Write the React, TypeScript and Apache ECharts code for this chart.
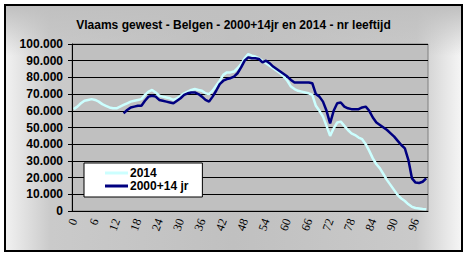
import React, { useEffect, useRef } from "react";
import * as echarts from "echarts";

const titleText = "Vlaams gewest - Belgen - 2000+14jr en 2014 - nr leeftijd";

const ages: string[] = Array.from({ length: 100 }, (_, i) => String(i));

const seriesNames = ["2014", "2000+14 jr"];

const values2014: number[] = [
  61000, 62500, 64500, 66000, 66500, 67000, 66500, 65500, 64000, 63000,
  62000, 61500, 61500, 62500, 63500, 64500, 65500, 66000, 66500, 67000,
  69500, 71500, 72500, 71000, 69000, 68500, 68000, 67500, 66500, 67500,
  69000, 70500, 71500, 72500, 73000, 72500, 72000, 70500, 70000, 72000,
  75000, 78000, 81500, 83000, 83000, 83500, 85500, 88000, 91500, 94000,
  93000, 92500, 91500, 90000, 88500, 87000, 85500, 84000, 82500, 80500,
  78000, 74500, 73000, 72000, 71500, 71000, 70500, 69500, 63000, 60000,
  56500, 51000, 45000, 49500, 53000, 53500, 51000, 48500, 46500, 45500,
  44000, 43000, 40000, 36000, 31500, 28000, 25500, 22000, 18500, 15500,
  12500, 9500, 7500, 6000, 4000, 2500, 1800, 1500, 1200, 1000,
];

const values2000plus14: (number | null)[] = [
  null, null, null, null, null, null, null, null, null, null,
  null, null, null, null, 58500, 60500, 62000, 62500, 63000, 63000,
  66000, 68500, 69000, 68500, 66500, 66000, 65500, 65000, 64500, 66000,
  67500, 69500, 70500, 71000, 71000, 70000, 68500, 66500, 65500, 68500,
  72000, 76000, 78000, 79000, 79500, 80500, 82500, 86000, 90000, 92000,
  91500, 91500, 91000, 89000, 90000, 88500, 86500, 85000, 83500, 82000,
  80500, 78500, 77000, 77000, 77000, 77000, 77000, 76500, 70000, 68500,
  65500, 60000, 52500, 60000, 64500, 65000, 62500, 61500, 61000, 61000,
  61000, 62000, 62500, 60000, 56000, 53000, 51500, 50000, 48500, 46500,
  44500, 42000, 39500, 37500, 30500, 19500, 17000, 16800, 17500, 19500,
];

const fmt = (v: number) => String(v).replace(/\B(?=(\d{3})+(?!\d))/g, ".");

export default function App() {
  const ref = useRef<HTMLDivElement>(null);
  useEffect(() => {
    if (!ref.current) return;
    const chart = echarts.init(ref.current, undefined, { renderer: "svg" });
    chart.setOption({
      animation: false,
      backgroundColor: "#ffffff",
      title: {
        text: titleText,
        left: "center",
        top: 14,
        textStyle: {
          fontFamily: "Liberation Sans",
          fontWeight: "bold",
          fontSize: 12,
          color: "#000",
        },
      },
      graphic: [
        {
          type: "rect",
          z: -100,
          shape: { x: 5, y: 5, width: 457, height: 246 },
          style: {
            fill: new echarts.graphic.LinearGradient(0, 0, 1, 0, [
              { offset: 0, color: "#f2f2f2" },
              { offset: 0.1, color: "#cacaca" },
              { offset: 0.5, color: "#c0c0c0" },
              { offset: 0.9, color: "#cacaca" },
              { offset: 1, color: "#f6f6f6" },
            ]),
            stroke: "#000",
            lineWidth: 2,
          },
        },
        {
          type: "rect",
          z: -99,
          shape: { x: 6, y: 6, width: 455, height: 50 },
          style: {
            fill: new echarts.graphic.LinearGradient(0, 0, 0, 1, [
              { offset: 0, color: "rgba(192,192,192,1)" },
              { offset: 1, color: "rgba(192,192,192,0)" },
            ]),
          },
        },
      ],
      grid: {
        left: 72,
        top: 44,
        right: 39,
        bottom: 46,
        show: true,
        backgroundColor: "#c0c0c0",
        borderColor: "#808080",
        borderWidth: 1,
      },
      legend: {
        orient: "vertical",
        left: 84,
        top: 163,
        data: seriesNames,
        icon: "rect",
        backgroundColor: "#ffffff",
        borderColor: "#000",
        borderWidth: 1,
        borderRadius: 0,
        padding: [4, 14, 5, 21],
        itemGap: 1,
        itemWidth: 23,
        itemHeight: 3,
        textStyle: {
          fontFamily: "Liberation Sans",
          fontWeight: "bold",
          fontSize: 12,
          color: "#000",
          padding: [0, 0, 0, -3],
        },
      },
      xAxis: {
        type: "category",
        data: ages,
        boundaryGap: true,
        axisLine: { lineStyle: { color: "#000", width: 1 } },
        axisTick: { interval: 0, length: 4, lineStyle: { color: "#000" } },
        axisLabel: {
          interval: 5,
          rotate: 70,
          margin: 8,
          fontFamily: "Liberation Serif",
          fontSize: 12,
          color: "#000",
        },
        splitLine: { show: false },
      },
      yAxis: {
        type: "value",
        min: 0,
        max: 100000,
        interval: 10000,
        axisLine: { show: true, lineStyle: { color: "#000", width: 1 } },
        axisTick: { show: true, length: 4, lineStyle: { color: "#000" } },
        axisLabel: {
          formatter: (v: number) => fmt(v),
          margin: 9,
          fontFamily: "Liberation Sans",
          fontWeight: "bold",
          fontSize: 12,
          color: "#000",
        },
        splitLine: { show: true, lineStyle: { color: "#000", width: 1 } },
      },
      series: [
        {
          name: seriesNames[0],
          type: "line",
          data: values2014,
          symbol: "none",
          lineStyle: { color: "#ccffff", width: 2.5 },
          itemStyle: { color: "#ccffff" },
        },
        {
          name: seriesNames[1],
          type: "line",
          data: values2000plus14,
          symbol: "none",
          connectNulls: false,
          lineStyle: { color: "#000080", width: 2.5 },
          itemStyle: { color: "#000080" },
        },
      ],
    });
    return () => chart.dispose();
  }, []);
  return (
    <div
      ref={ref}
      style={{ position: "fixed", left: 0, top: 0, width: 467, height: 257 }}
    />
  );
}
